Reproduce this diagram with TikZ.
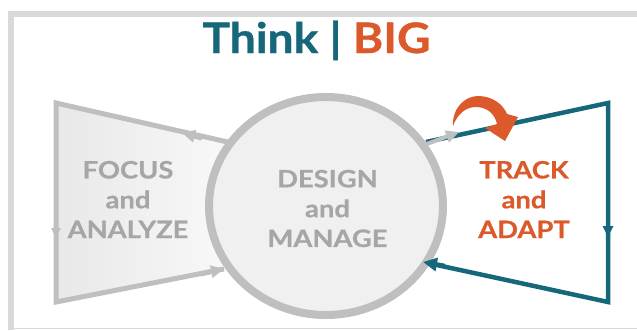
\documentclass[tikz,border=0pt]{standalone}
\usepackage{fontspec}
\setmainfont{Lato}
\newfontfamily\widesans[FakeStretch=1.14,FakeBold=0.6]{Lato}
\newfontfamily\titlesans[FakeStretch=1.1,FakeBold=0.8]{Lato}
\usetikzlibrary{arrows.meta,decorations.markings,shapes.geometric}

\definecolor{tealblue}{HTML}{17677A}
\definecolor{burnt}{HTML}{DB592A}
\definecolor{edgegray}{HTML}{BFBFBF}
\definecolor{wordgray}{HTML}{A6A6A6}
\definecolor{framegray}{HTML}{D9D9D9}
\definecolor{ringfill}{HTML}{F0F0F0}

\begin{document}
\begin{tikzpicture}[x=1pt,y=-1pt,
  gline/.style={draw=edgegray,line width=5pt,line join=miter},
  tline/.style={draw=tealblue,line width=4.5pt,line join=miter},
  gtip/.style={-{Triangle[length=13pt,width=12pt]}},
  ttip/.style={-{Triangle[length=14pt,width=13pt]}},
  label/.style={font=\widesans\bfseries\fontsize{24}{29.8}\selectfont,align=center,inner sep=0pt}
]
\useasboundingbox (0,0) rectangle (637,330);

% page frame
\draw[framegray,line width=6pt] (11,330) -- (11,13.5) -- (637,13.5);
\draw[framegray,line width=1.5pt] (8,328.7) -- (637,328.7);

% key points
\coordinate (LT) at (56,103);
\coordinate (LB) at (56,302);
\coordinate (LTop) at (232,143);
\coordinate (LBot) at (224,269);
\coordinate (RT) at (608,103);
\coordinate (RB) at (608,302);
\coordinate (RTop) at (426,142);
\coordinate (RBot) at (423,262);

% left panel
\shade[left color=black!9,right color=white] (56,103) -- (300,160) -- (300,255) -- (56,302) -- cycle;
\draw[gline] (LTop) -- (LT) -- (LB) -- (LBot);
\draw[edgegray,line width=5pt,gtip] (202,138) -- (182,133);
\draw[edgegray,line width=4pt,-{Triangle[length=10pt,width=9pt]}] (56,220) -- (56,238);

% right panel
\draw[tline] (RTop) -- (RT) -- (RB) -- (RBot);
\draw[tealblue,line width=4pt,-{Triangle[length=11pt,width=10pt]}] (608,220) -- (608,237);

% central ring
\node[ellipse,draw=edgegray,fill=ringfill,line width=8pt,
      minimum width=234pt,minimum height=218pt,inner sep=0pt] (dm) at (326,206) {};

% arrows touching the ring
\draw[edgegray,line width=5pt,gtip] (200,274) -- (LBot);
\draw[tealblue,line width=4.5pt,ttip] (445,266) -- (RBot);
\draw[edgegray,line width=4pt,gtip] (424,145) -- (459,132);

% curved turn-around arrow
\fill[burnt] (453,126) .. controls (452,108) and (465,96) .. (478,96)
  .. controls (492,96) and (503,104) .. (507,114) -- (518,117) -- (505,141)
  -- (485,128) -- (497,124) .. controls (495,114) and (487,107) .. (476,107)
  .. controls (465,107) and (457,115) .. (453,126) -- cycle;

% title
\node[font=\titlesans\bfseries\fontsize{42}{42}\selectfont,anchor=base,inner sep=0pt] (title)
  at (316.5,53) {\textcolor{tealblue}{Think |} \textcolor{burnt}{BIG}};

% stage labels
\node[label,text=wordgray] (focus) at (128,199.5) {FOCUS\\and\\ANALYZE};
\node[label,text=wordgray] (design) at (327.5,208.5) {DESIGN\\and\\MANAGE};
\node[label,text=burnt] (track) at (524,199.5) {TRACK\\and\\ADAPT};
\end{tikzpicture}
\end{document}
